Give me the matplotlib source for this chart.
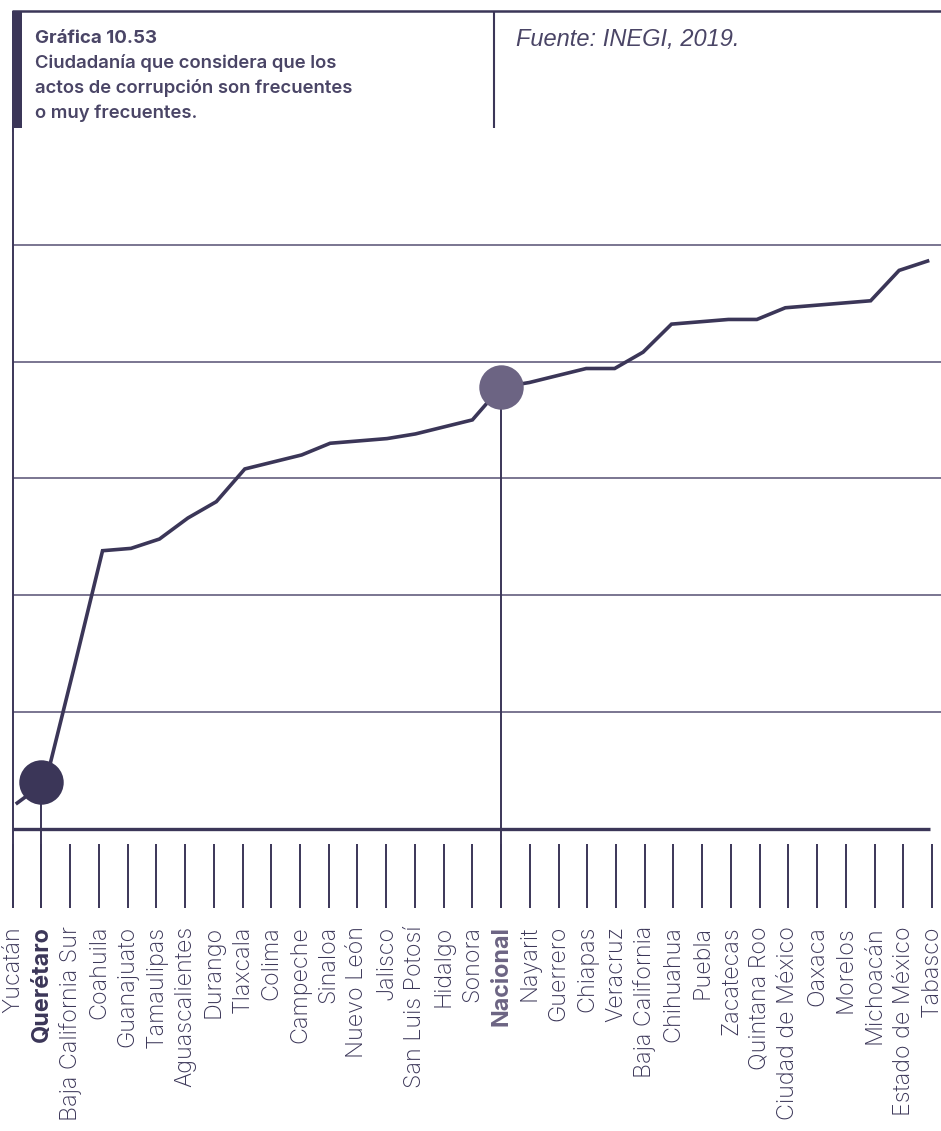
import numpy as np
import matplotlib.pyplot as plt
from matplotlib.patches import Rectangle

estados = ["Yucatán", "Querétaro", "Baja California Sur", "Coahuila", "Guanajuato",
           "Tamaulipas", "Aguascalientes", "Durango", "Tlaxcala", "Colima",
           "Campeche", "Sinaloa", "Nuevo León", "Jalisco", "San Luis Potosí",
           "Hidalgo", "Sonora", "Nacional", "Nayarit", "Guerrero", "Chiapas",
           "Veracruz", "Baja California", "Chihuahua", "Puebla", "Zacatecas",
           "Quintana Roo", "Ciudad de México", "Oaxaca", "Morelos", "Michoacán",
           "Estado de México", "Tabasco"]
porcentaje = [61.1, 62.0, 66.9, 71.9, 72.0, 72.4, 73.3, 74.0, 75.4, 75.7,
              76.0, 76.5, 76.6, 76.7, 76.9, 77.2, 77.5, 78.9, 79.1, 79.4,
              79.7, 79.7, 80.4, 81.6, 81.7, 81.8, 81.8, 82.3, 82.4, 82.5,
              82.6, 83.9, 84.3]
resaltados = {"Querétaro": "#3b3658", "Nacional": "#6c6483"}

DARK = "#3b3658"
GRID = "#6f6a88"
TXT = "#4a4566"

W, H = 941, 1131
fig = plt.figure(figsize=(W / 100, H / 100), dpi=100)

# header drawn in pixel coords
top = fig.add_axes([0, 0, 1, 1])
top.set_xlim(0, W)
top.set_ylim(H, 0)
top.axis("off")
top.add_patch(Rectangle((12, 11), 10, 121, color=DARK, lw=0))
top.plot([12, W], [11.3, 11.3], color=DARK, lw=1.8, solid_capstyle="butt")
top.plot([494.5, 494.5], [11, 132], color=DARK, lw=1.5, solid_capstyle="butt")
top.text(35, 43, "Gráfica 10.53", fontsize=13.5, fontweight="bold", color=TXT,
         family="Inter", va="baseline")
sub = ["Ciudadanía que considera que los", "actos de corrupción son frecuentes",
       "o muy frecuentes."]
for k, linea in enumerate(sub):
    top.text(35, 68.5 + 24.5 * k, linea, fontsize=13.3, fontweight="semibold",
             color=TXT, family="Inter", va="baseline")
top.text(516, 46, "Fuente: INEGI, 2019.", fontsize=17, style="italic",
         color=TXT, family="Liberation Sans", va="baseline")

# chart
step = 28.73
ax = fig.add_axes([12.7 / W, (H - 828.7) / H, (W - 12.7) / W, 700.8 / H])
n = len(estados)
idx = np.arange(n)
ax.set_xlim(0, (W - 12.7) / step)
ax.set_ylim(60, 90)
for s in ax.spines.values():
    s.set_visible(False)
ax.set_yticks([])

for v in [65, 70, 75, 80, 85]:
    ax.axhline(v, color=GRID, lw=1.3, zorder=1)
ax.plot([0, n - 1.07], [60, 60], color=DARK, lw=2.4, solid_capstyle="butt",
        clip_on=False, zorder=2)

tick_top = 60 - 15 / 116.8 * 5
tick_bot = 60 - 79.3 / 116.8 * 5
ax.vlines(idx, tick_top, tick_bot, color=DARK, lw=1.4, clip_on=False)
ax.vlines(0, tick_bot, 90, color=DARK, lw=1.4, clip_on=False)

# the line sits slightly inset from the tick positions
ax.plot(0.157 + idx * 0.9902, porcentaje, color=DARK, lw=2.6, zorder=3,
        solid_joinstyle="miter")

for nombre, col in resaltados.items():
    i = estados.index(nombre)
    ax.vlines(i, tick_bot, porcentaje[i], color=DARK, lw=1.4, clip_on=False, zorder=2)
    ax.plot(i, porcentaje[i], "o", ms=32, color=col, mec="none", zorder=4)

ax.set_xticks(idx)
ax.set_xticklabels(estados, rotation=90, ha="center", va="top",
                   fontsize=16.8, family="Inter", fontweight="light", color=DARK)
ax.tick_params(axis="x", length=0, pad=70)
for lab in ax.get_xticklabels():
    if lab.get_text() in resaltados:
        lab.set_fontweight("bold")
        lab.set_color(resaltados[lab.get_text()])

fig.savefig("out.png", dpi=100)
